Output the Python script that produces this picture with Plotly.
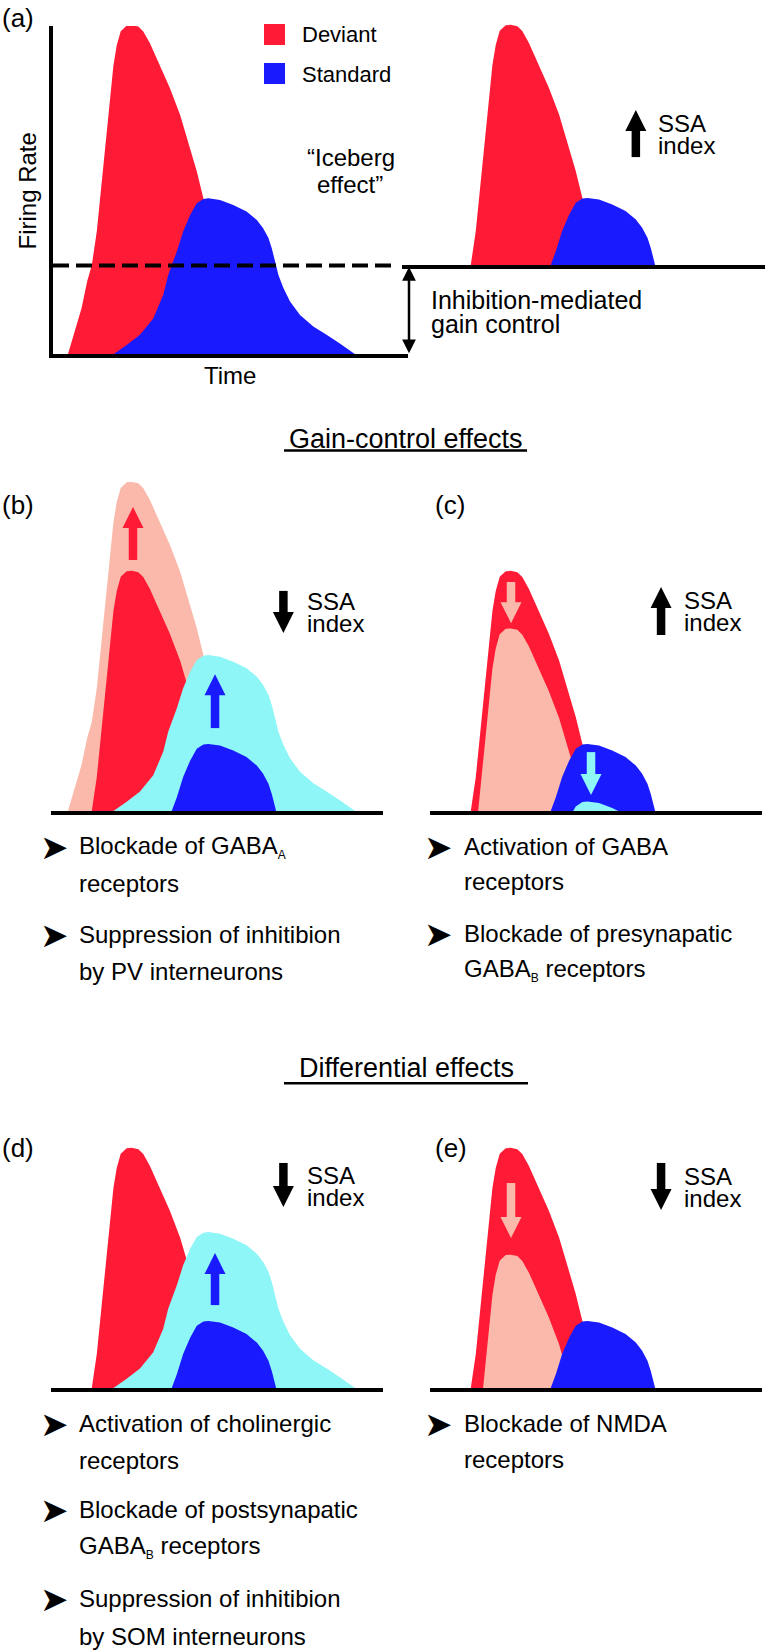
import plotly.graph_objects as go

W, H = 765, 1650
PX_T = 3.32   # px per time unit
PX_R = 3.29   # px per firing-rate unit
FONT = "Liberation Sans, Arial, Helvetica, sans-serif"

# ---------------- data: idealised response profiles ----------------
DEV_T = [5.1, 7.2, 9.2, 10.9, 12.3, 13.8, 14.8, 15.8, 16.8, 17.8, 18.8, 19.8, 21.0, 22.8, 24.3,
         26.3, 27.8, 29.8, 32.8, 35.8, 38.9, 41.9, 43.9, 45.9, 48.5, 50.9, 53.9, 56.9, 58.4]
DEV_R = [0, 7.0, 14.0, 22.2, 27.1, 37.4, 47.4, 57.4, 67.8, 77.8, 87.8, 93.9, 98.2, 99.9, 100,
         99.6, 98.1, 94.5, 87.9, 80.9, 72.7, 62.6, 55.6, 47.4, 36.8, 26.1, 14.0, 3.3, 0]
STD_T = [18.8, 22.8, 26.8, 30.8, 33.8, 35.3, 36.4, 37.9, 39.8, 41.9, 43.9, 45.9, 47.4, 50.9,
         54.9, 58.9, 62.0, 63.9, 65.5, 66.5, 67.5, 68.5, 70.0, 72.0, 75.0, 79.0, 83.0, 87.0, 91.6]
STD_R = [0, 2.8, 5.9, 10.9, 18.0, 24.1, 27.1, 31.2, 37.3, 42.3, 45.9, 47.2, 47.4, 46.9,
         45.4, 43.4, 40.8, 38.3, 35.3, 32.2, 28.2, 24.1, 20.1, 16.0, 11.9, 8.4, 5.9, 3.3, 0]

# inhibition thresholds (rate units)
THR_CTRL = 27.0   # normal inhibition (dashed line)
THR_GABA = 44.5   # enhanced inhibition, panel (c)
THR_NMDA = 59.5   # deviant after NMDA blockade, panel (e)

# arrows: (time, rate at tail, rate at tip)
ARROW_A2 = [(62.0, 32.8, 47.1)]
ARROW_B = [(24.7, 76.3, 92.4), (49.4, 25.2, 41.6), (70.0, 66.9, 54.1)]
ARROW_C = [(24.4, 69.6, 57.1), (48.5, 17.9, 4.9), (69.6, 53.5, 68.1)]
ARROW_D = [(49.4, 25.2, 41.0), (70.0, 68.4, 55.0)]
ARROW_E = [(24.4, 62.3, 45.6), (69.6, 68.4, 54.1)]

# texts
LEGEND_NAMES = ["Deviant", "Standard"]
BULLETS_B = [["Blockade of GABA<sub><span style='font-size:12px'>A</span></sub>", "receptors"],
             ["Suppression of inhitibion", "by PV interneurons"]]
BULLETS_C = [["Activation of GABA", "receptors"],
             ["Blockade of presynapatic", "GABA<sub><span style='font-size:12px'>B</span></sub> receptors"]]
BULLETS_D = [["Activation of cholinergic", "receptors"],
             ["Blockade of postsynapatic", "GABA<sub><span style='font-size:12px'>B</span></sub> receptors"],
             ["Suppression of inhitibion", "by SOM interneurons"]]
BULLETS_E = [["Blockade of NMDA", "receptors"]]

RED, BLUE, SALMON, CYAN = "#FF1A35", "#1A1AFF", "#FAB9AA", "#8EF6F6"
DEV = (DEV_T, DEV_R)
STD = (STD_T, STD_R)

# panel geometry (px): name, x-left, x-right, px of t=0, top, px of rate 0, axis line width, y-line
PANELS = [
    ("a", 52.5, 408, 51, 26, 354.25, 3.5, True),
    ("a2", 402, 765, 430, 15, 265, 4, False),
    ("b", 51, 383, 51, 465, 811, 4, False),
    ("c", 430, 762, 430, 465, 811, 4, False),
    ("d", 51, 383, 51, 1125, 1388, 4, False),
    ("e", 430, 762, 430, 1125, 1388, 4, False),
]
LAYERS = {
    "a": [(DEV, 0, RED), (STD, 0, BLUE)],
    "a2": [(DEV, THR_CTRL, RED), (STD, THR_CTRL, BLUE)],
    "b": [(DEV, 0, SALMON), (DEV, THR_CTRL, RED), (STD, 0, CYAN), (STD, THR_CTRL, BLUE)],
    "c": [(DEV, THR_CTRL, RED), (DEV, THR_GABA, SALMON), (STD, THR_CTRL, BLUE), (STD, THR_GABA, CYAN)],
    "d": [(DEV, THR_CTRL, RED), (STD, 0, CYAN), (STD, THR_CTRL, BLUE)],
    "e": [(DEV, THR_CTRL, RED), (DEV, THR_NMDA, SALMON), (STD, THR_CTRL, BLUE)],
}
ARROWS = {
    "a2": list(zip(ARROW_A2, ["black"])),
    "b": list(zip(ARROW_B, [RED, BLUE, "black"])),
    "c": list(zip(ARROW_C, [SALMON, CYAN, "black"])),
    "d": list(zip(ARROW_D, [BLUE, "black"])),
    "e": list(zip(ARROW_E, [SALMON, "black"])),
}

fig = go.Figure()
layout_axes = {}
refs = {}
for i, (name, xl, xr, t0, top, base, lw, yline) in enumerate(PANELS, start=1):
    sfx = "" if i == 1 else str(i)
    xref, yref = "x" + sfx, "y" + sfx
    refs[name] = (xref, yref)
    common = dict(showgrid=False, zeroline=False, showticklabels=False, ticks="",
                  fixedrange=True, linecolor="black")
    layout_axes["xaxis" + sfx] = dict(domain=[xl / W, xr / W],
                                      range=[(xl - t0) / PX_T, (xr - t0) / PX_T],
                                      anchor=yref, showline=True, linewidth=lw, **common)
    layout_axes["yaxis" + sfx] = dict(domain=[1 - base / H, 1 - top / H],
                                      range=[0, (base - top) / PX_R],
                                      anchor=xref, showline=yline, linewidth=lw, **common)
    for (ct, cr), thr, col in LAYERS[name]:
        fig.add_trace(go.Scatter(x=ct, y=[r - thr for r in cr], xaxis=xref, yaxis=yref,
                                 mode="lines", line=dict(width=0, color=col),
                                 fill="tozeroy", fillcolor=col, hoverinfo="skip",
                                 showlegend=False))

# block arrows
for name, items in ARROWS.items():
    xref, yref = refs[name]
    for (t, r0, r1), col in items:
        up = r1 > r0
        inset = 12 / PX_R
        r_end = r1 - inset if up else r1 + inset
        fig.add_trace(go.Scatter(x=[t, t], y=[r0, r_end], xaxis=xref, yaxis=yref, mode="lines",
                                 line=dict(color=col, width=8.5), hoverinfo="skip",
                                 showlegend=False))
        fig.add_trace(go.Scatter(x=[t], y=[r1], xaxis=xref, yaxis=yref, mode="markers",
                                 marker=dict(symbol="arrow-up" if up else "arrow-down", size=21,
                                             color=col, line=dict(width=0)),
                                 cliponaxis=False, hoverinfo="skip", showlegend=False))

annotations = []


def ann(text, x, y, size, xanchor="left", family=FONT, **kw):
    annotations.append(dict(text=text, x=x / W, y=1 - y / H, xref="paper", yref="paper",
                            showarrow=False, xanchor=xanchor, yanchor="middle",
                            font=dict(size=size, family=family, color="black"), **kw))


# panel labels
for lab, x, y in [("(a)", 0, 17.5), ("(b)", 0, 505), ("(c)", 433, 505),
                  ("(d)", 0, 1148), ("(e)", 433, 1148)]:
    ann(lab, x, y, 26)

# panel (a) texts
ann(LEGEND_NAMES[0], 300, 34.2, 22)
ann(LEGEND_NAMES[1], 300, 74.2, 22)
ann("Firing Rate", 27.5, 191, 24, xanchor="center", textangle=-90)
ann("Time", 230, 375.8, 24, xanchor="center")
ann("\u201cIceberg", 351, 157.5, 24, xanchor="center")
ann("effect\u201d", 350, 185, 24, xanchor="center")
ann("Inhibition-mediated", 429, 299.8, 25)
ann("gain control", 429, 324.2, 25)

# SSA index labels
for x, y in [(656, 123.5), (305, 601.8), (682, 600.8), (305, 1175.8), (682, 1176.8)]:
    ann("SSA", x, y, 24)
    ann("index", x, y + 21.5, 24)

# section headers
ann("Gain-control effects", 405.5, 438.8, 27, xanchor="center")
ann("Differential effects", 406, 1067.8, 27, xanchor="center")


def bullets(items, xb, xt, baselines):
    k = 0
    for lines in items:
        ann("\u27a4", xb, baselines[k] - 8.5, 34, xanchor="center", family="DejaVu Sans")
        for line in lines:
            ann(line, xt, baselines[k] - 8.2, 24)
            k += 1


bullets(BULLETS_B, 54, 77, [855, 892, 943, 980])
bullets(BULLETS_C, 439, 462, [855, 890, 942, 978])
bullets(BULLETS_D, 54, 77, [1432, 1469, 1518, 1555, 1607, 1645])
bullets(BULLETS_E, 439, 462, [1432, 1468])

# inhibition-mediated gain control double arrow (from threshold down to the time axis)
annotations.append(dict(x=409 / W, y=1 - 267 / H, xref="paper", yref="paper",
                        ax=0, ay=(THR_CTRL * PX_R) - 1, text="", showarrow=True,
                        arrowhead=2, arrowsize=1.1, arrowwidth=2.5, arrowside="end+start",
                        startarrowhead=2, startarrowsize=1.1, arrowcolor="black",
                        standoff=0, startstandoff=0))

shapes = [
    # threshold (dashed) line in panel (a)
    dict(type="line", xref="x", yref="y", x0=0.6, x1=103.6, y0=THR_CTRL, y1=THR_CTRL,
         line=dict(color="black", width=4, dash="16px,7px")),
    # legend swatches
    dict(type="rect", xref="paper", yref="paper", x0=264 / W, x1=285 / W,
         y0=1 - 45 / H, y1=1 - 24 / H, fillcolor=RED, line=dict(width=0)),
    dict(type="rect", xref="paper", yref="paper", x0=264 / W, x1=285 / W,
         y0=1 - 84 / H, y1=1 - 63 / H, fillcolor=BLUE, line=dict(width=0)),
    # header underlines
    dict(type="line", xref="paper", yref="paper", x0=284 / W, x1=527 / W,
         y0=1 - 450.5 / H, y1=1 - 450.5 / H, line=dict(color="black", width=2.5)),
    dict(type="line", xref="paper", yref="paper", x0=284 / W, x1=528 / W,
         y0=1 - 1083.3 / H, y1=1 - 1083.3 / H, line=dict(color="black", width=2.5)),
]

fig.update_layout(width=W, height=H, autosize=False, margin=dict(l=0, r=0, t=0, b=0),
                  paper_bgcolor="white", plot_bgcolor="white", showlegend=False,
                  annotations=annotations, shapes=shapes, **layout_axes)
fig.write_html("out.html", config={"displayModeBar": False},
               post_script="document.body.style.margin='0';document.body.style.overflow='hidden';")
